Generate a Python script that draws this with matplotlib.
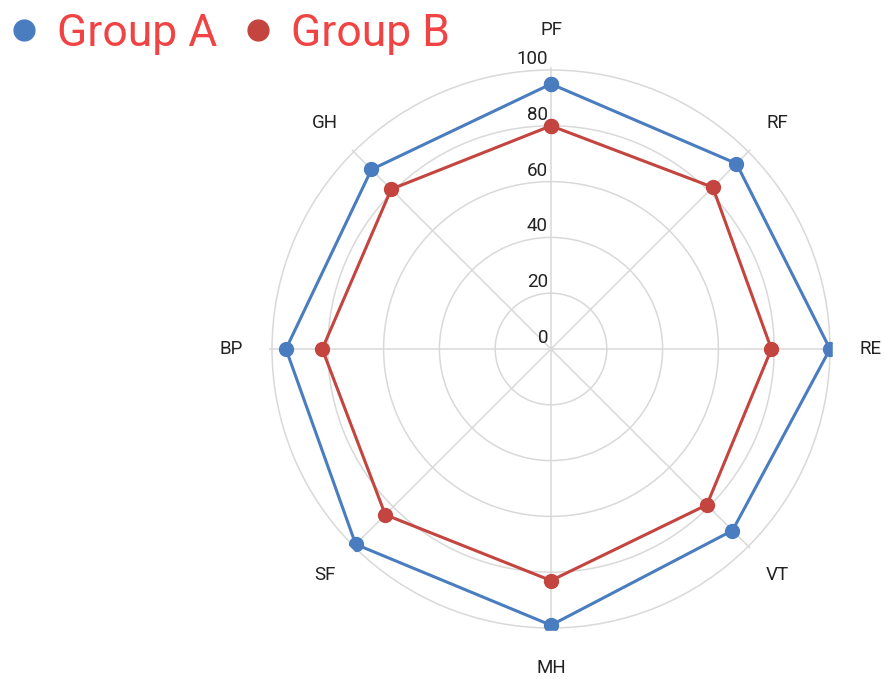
import numpy as np
import matplotlib
matplotlib.use('Agg')
import matplotlib.pyplot as plt
from matplotlib.lines import Line2D
import matplotlib.transforms as mtransforms

plt.rcParams['font.family'] = ['Roboto', 'DejaVu Sans']

categories = ["PF", "RF", "RE", "VT", "MH", "SF", "BP", "GH"]
group_a = [95, 94, 100, 92, 99, 99, 95, 91]
group_b = [80, 82, 79, 79, 83, 84, 82, 81]
series_names = ["Group A", "Group B"]
r_ticks = [0, 20, 40, 60, 80, 100]

blue = "#4a7cc0"
red = "#c4443f"

fig = plt.figure(figsize=(8.85, 6.79), dpi=100)
ax = fig.add_axes([0.3042, 0.0710, 0.6368, 0.8300], projection='polar')
ax.set_theta_offset(np.pi / 2)
ax.set_theta_direction(-1)

n = len(categories)
angles = np.linspace(0, 2 * np.pi, n, endpoint=False)
closed = np.append(angles, angles[0])

for vals, col in [(group_a, blue), (group_b, red)]:
    v = np.append(vals, vals[0])
    ax.plot(closed, v, color=col, lw=2.2, marker='o', ms=10, zorder=3)

ax.set_ylim(0, 101)
ax.set_yticks(r_ticks[1:])
ax.set_yticklabels([])
ax.set_xticks(angles)
ax.set_xticklabels([])
ax.grid(True, color="#d9d9d9", lw=1.1)
ax.spines['polar'].set_visible(False)
ax.tick_params(length=0)

# radial tick labels, just above each ring, left of the vertical spoke
off = mtransforms.offset_copy(ax.transData, fig=fig, x=-3, y=2, units='dots')
for t in r_ticks:
    ax.text(0, t, str(t), transform=off, ha='right', va='bottom',
            fontsize=13.5, color="#222222")

# category labels
for a, name in zip(angles, categories):
    ax.text(a, 114.5, name, ha='center', va='center', fontsize=13.5,
            color="#222222", clip_on=False)

handles = [Line2D([], [], ls='none', marker='o', ms=15, color=c) for c in (blue, red)]
fig.legend(handles, series_names, loc='upper left', bbox_to_anchor=(-0.043, 1.04),
           ncol=2, frameon=False, fontsize=32, labelcolor="#f04444",
           handletextpad=0.23, columnspacing=0.43, handlelength=1.0)

fig.savefig("out.png", dpi=100)
